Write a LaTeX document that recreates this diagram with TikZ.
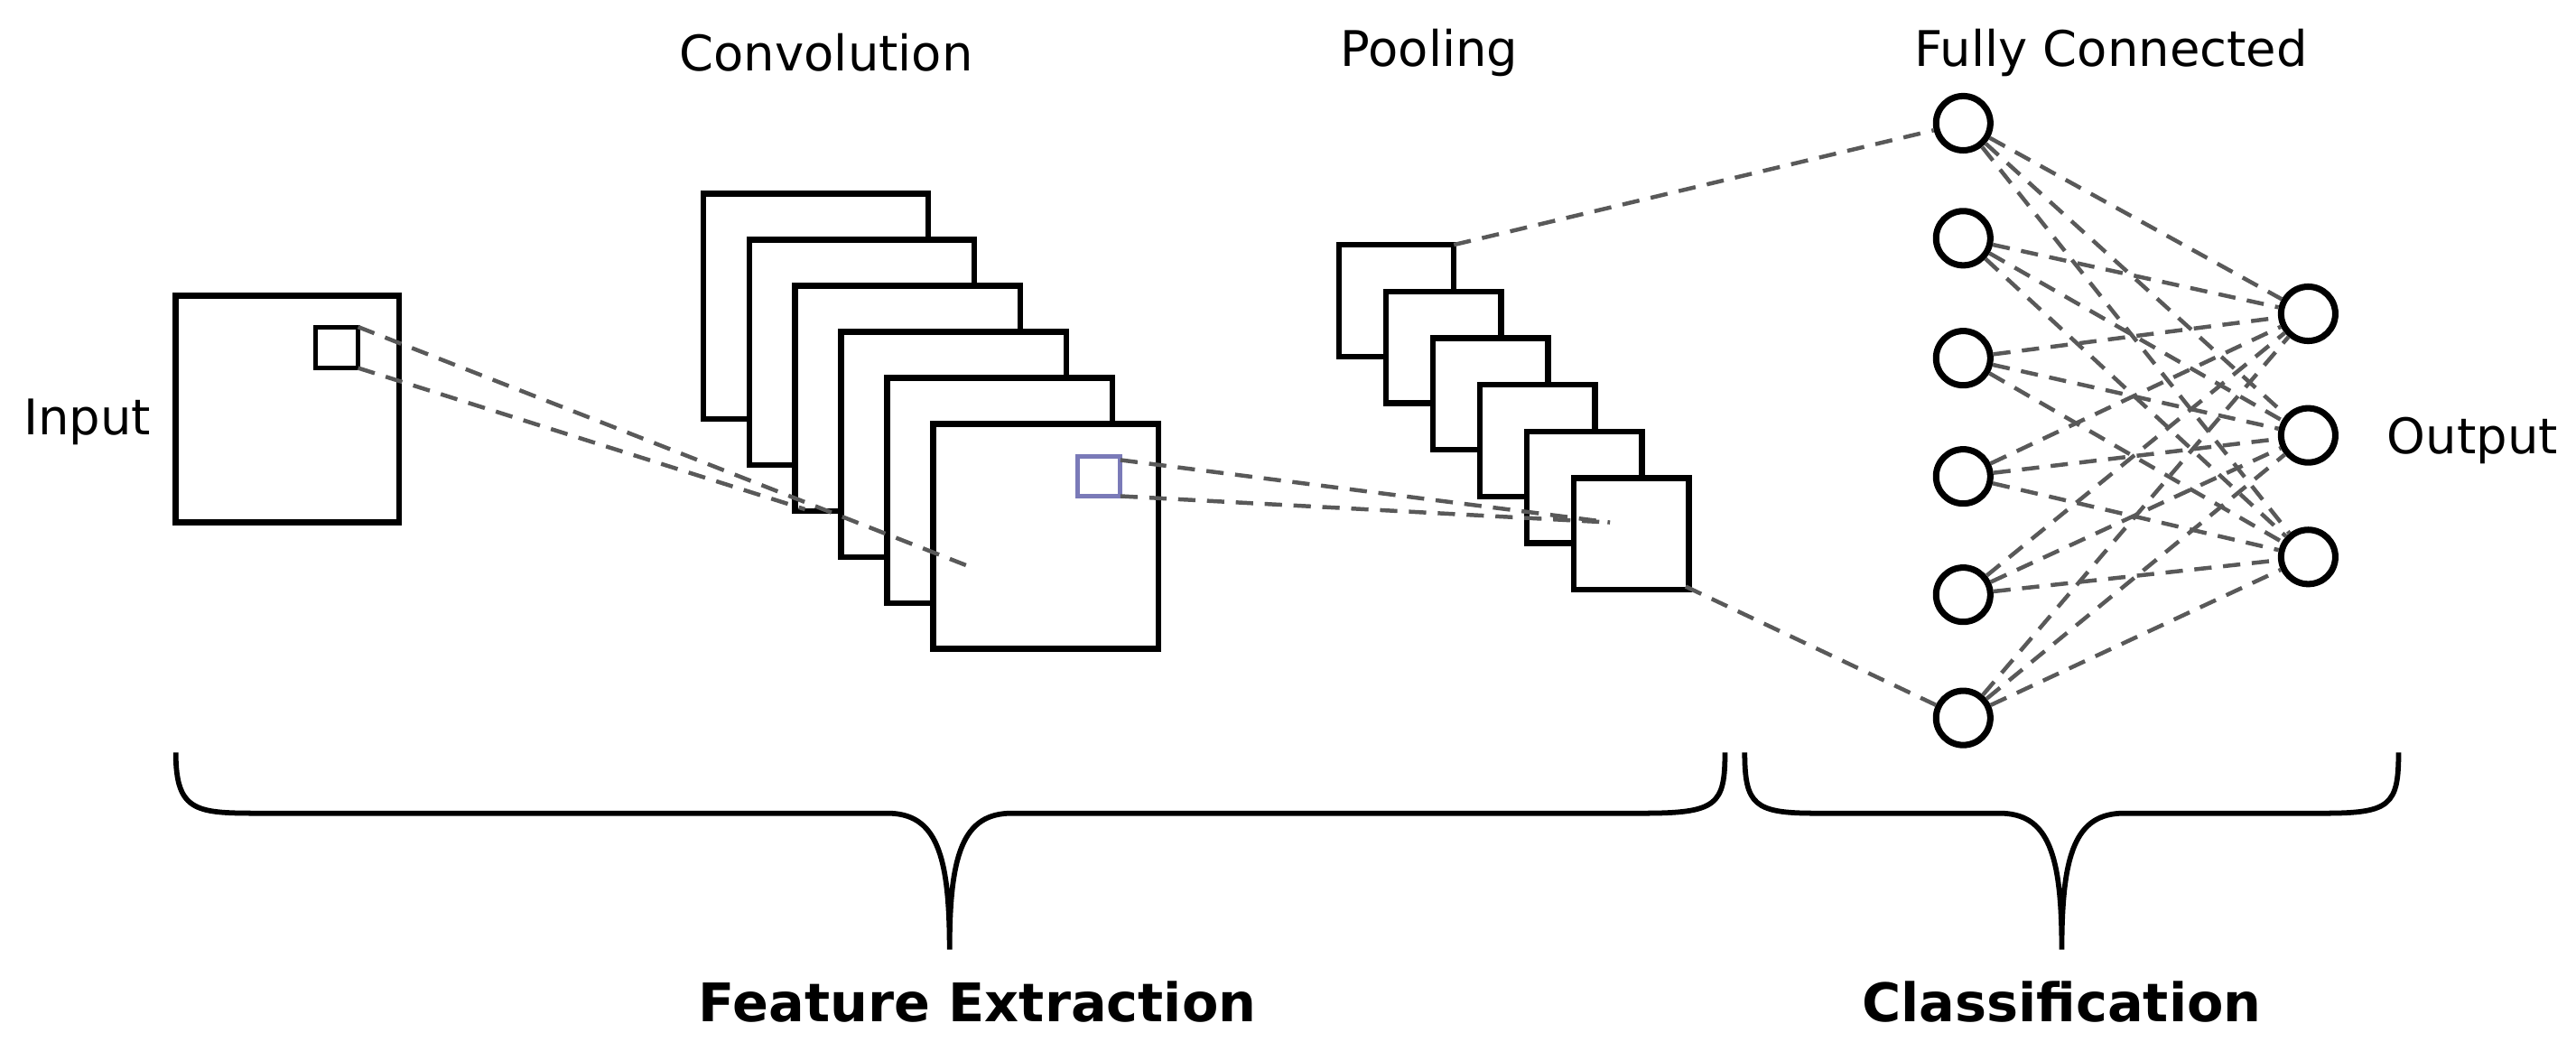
\documentclass[tikz,border=0pt]{standalone}
\usepackage{fontspec}
\setmainfont{DejaVu Sans}
\begin{document}
\begin{tikzpicture}[x=0.01cm,y=-0.01cm,
 box/.style={draw,line width=1pt,fill=white},
 dl/.style={dashed,gray!70!black,line width=0.7pt,dash pattern=on 3pt off 2pt},
 neu/.style={circle,draw,line width=1.1pt,minimum size=0.33cm,inner sep=0,fill=white},
 lab/.style={font=\fontsize{8.5}{10}\selectfont},
 blab/.style={font=\fontsize{9.2}{11}\selectfont\bfseries}]
\useasboundingbox (0,0) rectangle (1568,634);
% input
\draw[box] (107,180) rectangle (243,318);
\draw[line width=0.8pt] (192,199) rectangle (218,224);
\coordinate (ia) at (218,199); \coordinate (ib) at (218,224);
% conv stack
\foreach \i in {0,...,5}{
 \draw[box] (428+28*\i,118+28*\i) rectangle ++(137,137);}
\draw[dl] (ia) -- (593,346);
\draw[dl] (ib) -- (490,310);
\draw[line width=0.8pt,draw=blue!30!gray!80] (656,278) rectangle (682,302);
\coordinate (ca) at (682,280); \coordinate (cb) at (682,302);
% pooling
\foreach \i in {0,...,5}{
 \draw[box] (815+28.6*\i,149+28.4*\i) rectangle ++(70,68);}
\draw[dl] (ca) -- (980,318);
\draw[dl] (cb) -- (980,318);
\coordinate (pa) at (885,149); \coordinate (pb) at (1026,357);
% FC
\foreach \y [count=\k] in {75,145,218,290,362,437}{
 \node[neu] (f\k) at (1195,\y) {};}
\foreach \y [count=\k] in {191,265,339}{
 \node[neu] (o\k) at (1405,\y) {};}
\foreach \a in {1,...,6}{\foreach \b in {1,2,3}{\draw[dl] (f\a) -- (o\b);}}
\draw[dl] (pa) -- (f1);
\draw[dl] (pb) -- (f6);
% labels
\node[lab] (t1) at (53,257) {Input};
\node[lab] (t2) at (503,32) {Convolution};
\node[lab] (t3) at (870,32) {Pooling};
\node[lab] (t4) at (1285,32) {Fully Connected};
\node[lab] (t5) at (1505,268) {Output};
\node[blab] (t6) at (595,610) {Feature Extraction};
\node[blab] (t7) at (1255,610) {Classification};
% braces
\draw[line width=0.9pt] (107,458) .. controls (107,495) and (120,495) .. (160,495)
 -- (540,495) .. controls (570,495) and (578,520) .. (578,578)
 .. controls (578,520) and (586,495) .. (616,495) -- (1000,495)
 .. controls (1045,495) and (1050,490) .. (1050,458);
\draw[line width=0.9pt] (1062,458) .. controls (1062,490) and (1068,495) .. (1105,495)
 -- (1217,495) .. controls (1247,495) and (1255,520) .. (1255,578)
 .. controls (1255,520) and (1263,495) .. (1293,495) -- (1415,495)
 .. controls (1455,495) and (1460,490) .. (1460,458);
\end{tikzpicture}
\end{document}
